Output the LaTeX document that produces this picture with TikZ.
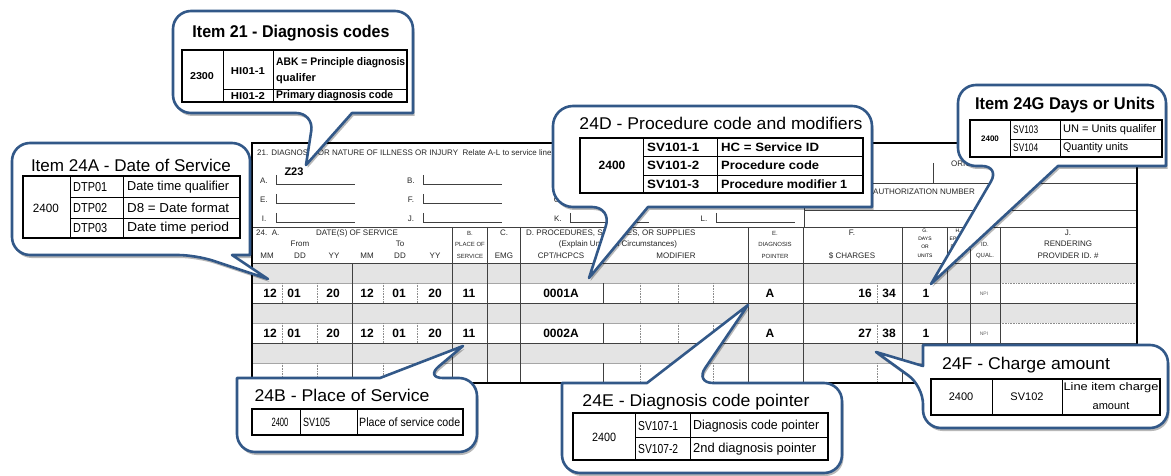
\documentclass[tikz,border=0pt]{standalone}
\usepackage{fontspec}
\usepackage{graphicx}
\setmainfont{Liberation Sans}
\usetikzlibrary{shadows}
\definecolor{cblue}{RGB}{50,88,136}
\definecolor{band}{RGB}{228,228,228}
\newcommand{\fw}[2]{\resizebox{#1pt}{\height}{#2}}
\tikzset{
  callout/.style={draw=cblue, line width=2.6pt, fill=white, line join=round,
    drop shadow={shadow xshift=1.5pt, shadow yshift=-3pt, opacity=0.28, fill=black}},
  tout/.style={draw=black, line width=1.6pt},
  tin/.style={draw=black, line width=0.7pt},
  ttl/.style={inner sep=0pt, font=\fontsize{17}{19}\selectfont},
  cell/.style={inner sep=0pt, font=\fontsize{10}{12}\selectfont},
  bcell/.style={inner sep=0pt, font=\bfseries\fontsize{10}{12}\selectfont},
  flbl/.style={inner sep=0pt, font=\fontsize{8}{9}\selectfont, text=black!85},
  fsm/.style={inner sep=0pt, font=\fontsize{6}{7}\selectfont, text=black!85},
  fdat/.style={inner sep=0pt, font=\bfseries\fontsize{12}{14}\selectfont},
  fline/.style={line width=0.7pt, draw=black!75},
  fthin/.style={line width=0.5pt, draw=black!35},
  fdot/.style={line width=0.6pt, draw=black!45, densely dotted},
}
\begin{document}
\begin{tikzpicture}[x=1pt,y=-1pt]
\useasboundingbox (0,0) rectangle (1171,476);
\fill[white] (0,0) rectangle (1171,476);

% ---------------- form ----------------
\foreach \yy in {263,303,343} \fill[band] (252,\yy) rectangle (1137,\yy+20);
\draw[fline] (252,227) -- (1137,227);
\draw[fline] (252,263) -- (1137,263);
\draw[fline] (252,303) -- (1137,303);
\draw[fline] (252,343) -- (1137,343);
\foreach \yy in {283,323,363} {
  \draw[fthin] (252,\yy) -- (1000,\yy);
  \draw[fdot] (1000,\yy) -- (1137,\yy);
  \foreach \xx in {282,317,383,417,640,678,713,877} \draw[fdot] (\xx,\yy) -- (\xx,\yy+20);
  \draw[fline] (603,\yy) -- (603,\yy+20);
}
\foreach \xx in {452,487,520,748,803,902,947,970,1000} \draw[fline] (\xx,227) -- (\xx,383);
\draw[fline] (352,263) -- (352,383);
\draw[fline] (804,143) -- (804,227);
\draw[fline] (804,210) -- (1137,210);
\draw[fline] (804,183) -- (1137,183);
\draw[fline] (933,163) -- (933,183);
\draw[line width=1.6pt] (252,143) rectangle (1137,383);

% item 21 area
\node[flbl, anchor=west] (l21) at (257,153) {21. DIAGNOSIS OR NATURE OF ILLNESS OR INJURY\ \ Relate A-L to service line below (24E)};
\node[flbl, anchor=west] (l22) at (951,164) {ORIGINAL REF. NO.};
\node[flbl, anchor=east] (l23) at (975,192) {23. PRIOR AUTHORIZATION NUMBER};
\foreach \lt/\xx/\yy [count=\i] in {A./264/181,B./411/181,C./558/181,D./704/181,E./264/200,F./411/200,G./558/200,H./704/200,I./264/219,J./411/219,K./558/219,L./704/219} {
  \node[flbl] (dg\i) at (\xx,\yy) {\lt};
  \draw[fline] (\xx+12,\yy-6) -- (\xx+12,\yy+3) -- (\xx+91,\yy+3);
}
\node[inner sep=0pt, font=\bfseries\fontsize{11}{12}\selectfont] (z23) at (294,172) {Z23};

% header row
\node[flbl, anchor=west] (h24) at (256,233) {24.\ \ A.};
\node[flbl] (hdos) at (357,233) {DATE(S) OF SERVICE};
\node[flbl] (hfr) at (300,244) {From};
\node[flbl] (hto) at (400,244) {To};
\foreach \t/\xx [count=\i] in {MM/267,DD/300,YY/334,MM/367,DD/400,YY/435} \node[flbl] (hm\i) at (\xx,256) {\t};
\node[fsm] (hb1) at (470,233) {B.};
\node[fsm] (hb2) at (470,244) {PLACE OF};
\node[fsm] (hb3) at (470,256) {SERVICE};
\node[flbl] (hc1) at (504,233) {C.};
\node[flbl] (hc2) at (504,256) {EMG};
\node[flbl, anchor=west] (hd1) at (526,233) {D. PROCEDURES, SERVICES, OR SUPPLIES};
\node[flbl] (hd2) at (618,244) {(Explain Unusual Circumstances)};
\node[flbl] (hd3) at (561,256) {CPT/HCPCS};
\node[flbl] (hd4) at (676,256) {MODIFIER};
\node[fsm] (he1) at (775,233) {E.};
\node[fsm] (he2) at (775,244) {DIAGNOSIS};
\node[fsm] (he3) at (775,256) {POINTER};
\node[flbl] (hf1) at (852,233) {F.};
\node[flbl] (hf2) at (852,256) {\$ CHARGES};
\node[inner sep=0pt, font=\fontsize{5}{6}\selectfont] (hg1) at (925,231) {G.};
\node[inner sep=0pt, font=\fontsize{5}{6}\selectfont] (hg2) at (925,239) {DAYS};
\node[inner sep=0pt, font=\fontsize{5}{6}\selectfont] (hg3) at (925,247) {OR};
\node[inner sep=0pt, font=\fontsize{5}{6}\selectfont] (hg4) at (925,256) {UNITS};
\node[inner sep=0pt, font=\fontsize{5}{6}\selectfont] (hh1) at (958,231) {H.};
\node[inner sep=0pt, font=\fontsize{5}{6}\selectfont] (hh2) at (958,239) {EPSDT};
\node[inner sep=0pt, font=\fontsize{5}{6}\selectfont] (hh3) at (958,247) {Family};
\node[inner sep=0pt, font=\fontsize{5}{6}\selectfont] (hh4) at (958,256) {Plan};
\node[fsm] (hi1) at (985,233) {I.};
\node[fsm] (hi2) at (985,244) {ID.};
\node[fsm] (hi3) at (985,256) {QUAL.};
\node[flbl] (hj1) at (1068,233) {J.};
\node[flbl] (hj2) at (1068,244) {RENDERING};
\node[flbl] (hj3) at (1068,256) {PROVIDER ID. \#};

% data rows
\foreach \t/\xx [count=\i] in {12/270,01/294,20/333,12/367,01/399,20/435,11/469} {
  \node[fdat] (ra\i) at (\xx,293) {\t};
  \node[fdat] (rb\i) at (\xx,333) {\t};
}
\node[fdat] (ra8) at (561,293) {0001A};
\node[fdat] (rb8) at (561,333) {0002A};
\node[fdat] (ra9) at (770,293) {A};
\node[fdat] (rb9) at (770,333) {A};
\node[fdat] (ra10) at (865,293) {16};
\node[fdat] (ra11) at (889,293) {34};
\node[fdat] (rb10) at (865,333) {27};
\node[fdat] (rb11) at (889,333) {38};
\node[fdat] (ra12) at (926,293) {1};
\node[fdat] (rb12) at (926,333) {1};
\node[inner sep=0pt, font=\fontsize{5}{6}\selectfont, text=black!60] (ra13) at (984,294) {NPI};
\node[inner sep=0pt, font=\fontsize{5}{6}\selectfont, text=black!60] (rb13) at (984,334) {NPI};

% ---------------- callout: Item 21 ----------------
\draw[callout] (306,165) -- (352,113) -- (413,113) [rounded corners=18pt] -- (413,11) -- (173,11) -- (173,113) -- (314,113) [sharp corners] -- cycle;
\node[ttl, font=\bfseries\fontsize{17}{19}\selectfont] (t21) at (291,33) {\fw{197}{Item 21 - Diagnosis codes}};
\draw[tout] (182,50) rectangle (407,102);
\draw[tin] (223,50) -- (223,102) (273,50) -- (273,102) (223,89) -- (407,89);
\node[bcell, font=\bfseries\fontsize{10}{11}\selectfont] (c21a) at (202,76) {\fw{24}{2300}};
\node[bcell, font=\bfseries\fontsize{10}{11}\selectfont] (c21b) at (248,71) {\fw{34}{HI01-1}};
\node[bcell, font=\bfseries\fontsize{10}{11}\selectfont] (c21c) at (248,96) {\fw{34}{HI01-2}};
\node[bcell, font=\bfseries\fontsize{11}{12}\selectfont, anchor=west] (c21d) at (276,63) {\fw{129}{ABK = Principle diagnosis}};
\node[bcell, font=\bfseries\fontsize{11}{12}\selectfont, anchor=west] (c21e) at (276,79) {qualifer};
\node[bcell, font=\bfseries\fontsize{11}{12}\selectfont, anchor=west] (c21f) at (276,96) {\fw{117}{Primary diagnosis code}};

% ---------------- callout: Item 24A ----------------
\draw[callout] (268,279) -- (232,255) -- (250,255) [rounded corners=18pt] -- (250,143) -- (12,143) -- (12,255) -- (196,255) [sharp corners] -- cycle;
\node[ttl] (t24a) at (131,165) {\fw{200}{Item 24A - Date of Service}};
\draw[tout] (23,176) rectangle (240,238);
\draw[tin] (70,176) -- (70,238) (123,176) -- (123,238) (70,197) -- (240,197) (70,218) -- (240,218);
\node[cell, font=\fontsize{12}{13}\selectfont] (c24a1) at (46,208) {\fw{26}{2400}};
\foreach \t/\d/\yy [count=\i] in {DTP01/Date time qualifier/187,DTP02/D8 = Date format/208,DTP03/Date time period/228} {
  \node[cell, font=\fontsize{13}{14}\selectfont, anchor=west] (c24ac\i) at (73,\yy) {\fw{34}{\t}};
  \node[cell, font=\fontsize{13}{14}\selectfont, anchor=west] (c24ad\i) at (127,\yy) {\fw{102}{\d}};
}

% ---------------- callout: 24D ----------------
\draw[callout] (589,278) -- (648,207) -- (872,207) [rounded corners=20pt] -- (872,106) -- (553,106) -- (553,207) -- (612,207) [sharp corners] -- cycle;
\node[ttl] (t24d) at (721,123) {\fw{283}{24D - Procedure code and modifiers}};
\draw[tout] (580,138) rectangle (863,193);
\draw[tin] (643,138) -- (643,193) (717,138) -- (717,193) (643,156) -- (863,156) (643,175) -- (863,175);
\node[bcell, font=\bfseries\fontsize{12}{13}\selectfont] (c24d1) at (612,165) {2400};
\foreach \t/\d/\w/\yy [count=\i] in {SV101-1/HC = Service ID/98/147,SV101-2/Procedure code/98/165.5,SV101-3/Procedure modifier 1/126/184} {
  \node[bcell, font=\bfseries\fontsize{12}{13}\selectfont, anchor=west] (c24dc\i) at (647,\yy) {\fw{52}{\t}};
  \node[bcell, font=\bfseries\fontsize{12}{13}\selectfont, anchor=west] (c24dd\i) at (721,\yy) {\fw{\w}{\d}};
}

% ---------------- callout: 24G ----------------
\draw[callout] (931,284) -- (1058,166) -- (1166,166) [rounded corners=18pt] -- (1166,85) -- (958,85) -- (958,166) -- (1000,166) [sharp corners] -- cycle;
\node[ttl, font=\bfseries\fontsize{17}{19}\selectfont] (t24g) at (1065,105) {\fw{180}{Item 24G Days or Units}};
\draw[tout] (970,120) rectangle (1162,157);
\draw[tin] (1010,120) -- (1010,157) (1060,120) -- (1060,157) (1010,139) -- (1162,139);
\node[bcell, font=\bfseries\fontsize{8}{9}\selectfont] (c24g1) at (990,139) {2400};
\node[cell, font=\fontsize{11}{12}\selectfont, anchor=west] (c24g2) at (1013,129.5) {\fw{25}{SV103}};
\node[cell, font=\fontsize{11}{12}\selectfont, anchor=west] (c24g3) at (1013,148) {\fw{25}{SV104}};
\node[cell, font=\fontsize{11}{12}\selectfont, anchor=west] (c24g4) at (1063,129.5) {\fw{93}{UN = Units qualifer}};
\node[cell, font=\fontsize{11}{12}\selectfont, anchor=west] (c24g5) at (1063,148) {\fw{65}{Quantity units}};

% ---------------- callout: 24B ----------------
\draw[callout] (463,346) -- (380,378) -- (237,378) [rounded corners=18pt] -- (237,452) -- (477,452) -- (477,378) -- (425,378) [sharp corners] -- cycle;
\node[ttl] (t24b) at (342,395) {\fw{175}{24B - Place of Service}};
\draw[tout] (252,409) rectangle (463,435);
\draw[tin] (300,409) -- (300,435) (357,409) -- (357,435);
\node[cell, font=\fontsize{12}{13}\selectfont] (c24b1) at (280,422) {\fw{17}{2400}};
\node[cell, font=\fontsize{12}{13}\selectfont, anchor=west] (c24b2) at (303,422) {\fw{27}{SV105}};
\node[cell, font=\fontsize{12}{13}\selectfont, anchor=west] (c24b3) at (359,422) {\fw{101}{Place of service code}};

% ---------------- callout: 24E ----------------
\draw[callout] (748,305) -- (647,383) -- (562,383) [rounded corners=18pt] -- (562,473) -- (842,473) -- (842,383) -- (695,383) [sharp corners] -- cycle;
\node[ttl] (t24e) at (696,402) {\fw{227}{24E - Diagnosis code pointer}};
\draw[tout] (573,413) rectangle (828,460);
\draw[tin] (635,413) -- (635,460) (690,413) -- (690,460) (635,437) -- (828,437);
\node[cell, font=\fontsize{12}{13}\selectfont] (c24e1) at (604,437) {\fw{24}{2400}};
\node[cell, font=\fontsize{13}{14}\selectfont, anchor=west] (c24e2) at (638,426) {\fw{40}{SV107-1}};
\node[cell, font=\fontsize{13}{14}\selectfont, anchor=west] (c24e3) at (638,449) {\fw{40}{SV107-2}};
\node[cell, font=\fontsize{13}{14}\selectfont, anchor=west] (c24e4) at (693,426) {\fw{126}{Diagnosis code pointer}};
\node[cell, font=\fontsize{13}{14}\selectfont, anchor=west] (c24e5) at (693,449) {\fw{123}{2nd diagnosis pointer}};

% ---------------- callout: 24F ----------------
\draw[callout] (876,352) -- (923,366) -- (923,345) [rounded corners=18pt] -- (1168,345) -- (1168,428) -- (923,428) -- (923,386) [sharp corners] -- cycle;
\node[ttl] (t24f) at (1026,365) {\fw{168}{24F - Charge amount}};
\draw[tout] (931,379) rectangle (1160,415);
\draw[tin] (992,379) -- (992,415) (1062,379) -- (1062,415);
\node[cell, font=\fontsize{11}{12}\selectfont] (c24f1) at (961,397) {2400};
\node[cell, font=\fontsize{11}{12}\selectfont] (c24f2) at (1027,397) {SV102};
\node[cell, font=\fontsize{11}{12}\selectfont] (c24f3) at (1111,388) {\fw{95}{Line item charge}};
\node[cell, font=\fontsize{11}{12}\selectfont] (c24f4) at (1111,406) {amount};

\end{tikzpicture}
\end{document}
